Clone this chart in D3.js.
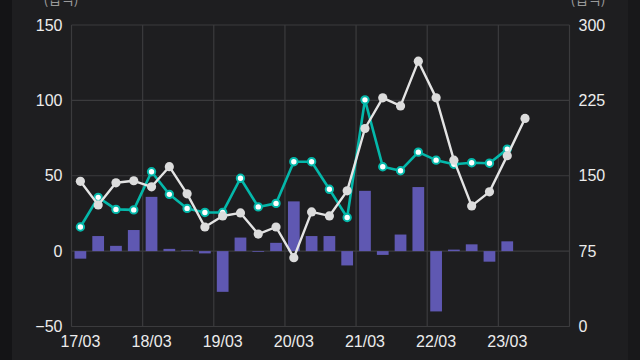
<!DOCTYPE html>
<html><head><meta charset="utf-8">
<script src="https://cdn.jsdelivr.net/npm/d3@7/dist/d3.min.js"></script>
<style>
html,body{margin:0;padding:0;background:#141416;}
svg{display:block;}
</style></head>
<body><svg id="c" width="640" height="360"></svg>
<script>
// quarterly categories (YY/MM)
const categories = ["17/03","17/06","17/09","17/12","18/03","18/06","18/09","18/12",
  "19/03","19/06","19/09","19/12","20/03","20/06","20/09","20/12",
  "21/03","21/06","21/09","21/12","22/03","22/06","22/09","22/12",
  "23/03","23/06","23/09","23/12"];
const tickLabels = ["17/03","18/03","19/03","20/03","21/03","22/03","23/03"];
const leftTicks = [-50, 0, 50, 100, 150];
const rightTicks = [0, 75, 150, 225, 300];
const unitLabel = "(십억)";
// bars (left axis)
const barValues = [-5, 10, 3.5, 14, 36, 1.5, 0.5, -1.5, -27, 9, -0.5, 5.5, 33, 10, 10, -9.5,
  40, -2.5, 11, 42.5, -40, 1, 4.5, -7, 6.5];
// teal line (right axis)
const tealValues = [99, 128.5, 116.5, 116, 154, 131.5, 117.5, 113.5, 113.5, 147.5, 119, 122.5,
  164, 164, 136.5, 108.5, 225.5, 159, 155, 173.5, 165.5, 161.5, 163, 162.5, 176.5];
// white line (right axis)
const whiteValues = [144.5, 121, 143, 145, 139, 159, 132, 99, 110, 113, 92, 99, 68.5, 114, 110,
  135, 197, 227.5, 219.5, 264, 227.5, 165.5, 120, 134, 170, 207];

const W = 640, H = 360;
const plot = {l: 71.5, r: 569.5, t: 25, b: 326.5};
const svg = d3.select("#c");
svg.append("rect").attr("x", 12).attr("y", 0).attr("width", 616).attr("height", H).attr("fill", "#1e1e20");
svg.append("rect").attr("x", 628).attr("y", 0).attr("width", 12).attr("height", H).attr("fill", "#18181a");

const x = d3.scaleBand().domain(categories).range([plot.l, plot.r]).paddingInner(0.34).paddingOuter(0.17);
const yL = d3.scaleLinear().domain([-50, 150]).range([plot.b, plot.t]);
const yR = d3.scaleLinear().domain([0, 300]).range([plot.b, plot.t]);
const step = x.step();
const cx = c => x(c) + x.bandwidth() / 2;

const grid = svg.append("g").attr("stroke", "#3b3b3d").attr("stroke-width", 1.2);
leftTicks.forEach(t => grid.append("line").attr("x1", plot.l).attr("x2", plot.r)
  .attr("y1", yL(t)).attr("y2", yL(t)));
tickLabels.forEach(t => {
  const gx = x(t) - step * x.paddingOuter();
  grid.append("line").attr("x1", gx).attr("x2", gx).attr("y1", plot.t).attr("y2", plot.b);
});
grid.append("line").attr("x1", plot.r).attr("x2", plot.r).attr("y1", plot.t).attr("y2", plot.b);
grid.append("line").attr("x1", plot.l).attr("x2", plot.r).attr("y1", plot.b).attr("y2", plot.b);

// bars
svg.append("g").selectAll("rect").data(barValues).join("rect")
  .attr("x", (d, i) => x(categories[i]))
  .attr("width", x.bandwidth())
  .attr("y", d => yL(Math.max(0, d)))
  .attr("height", d => Math.abs(yL(d) - yL(0)))
  .attr("fill", "#5f58b2");

// teal line
const lineT = d3.line().x((d, i) => cx(categories[i])).y(d => yR(d));
svg.append("path").datum(tealValues).attr("d", lineT).attr("fill", "none")
  .attr("stroke", "#04b8aa").attr("stroke-width", 2.6).attr("stroke-linejoin", "round");
svg.append("g").selectAll("circle").data(tealValues).join("circle")
  .attr("cx", (d, i) => cx(categories[i])).attr("cy", d => yR(d)).attr("r", 3.7)
  .attr("fill", "#ffffff").attr("stroke", "#04b8aa").attr("stroke-width", 2);

// white line
svg.append("path").datum(whiteValues).attr("d", lineT).attr("fill", "none")
  .attr("stroke", "#e4e4e4").attr("stroke-width", 2.4).attr("stroke-linejoin", "round");
svg.append("g").selectAll("circle").data(whiteValues).join("circle")
  .attr("cx", (d, i) => cx(categories[i])).attr("cy", d => yR(d)).attr("r", 4.6)
  .attr("fill", "#dcdcdc");

// axes
const font = "'Liberation Sans', Arial, sans-serif";
const axL = svg.append("g").attr("transform", `translate(${plot.l},0)`)
  .call(d3.axisLeft(yL).tickValues(leftTicks).tickSize(0).tickPadding(9));
const axR = svg.append("g").attr("transform", `translate(${plot.r},0)`)
  .call(d3.axisRight(yR).tickValues(rightTicks).tickSize(0).tickPadding(9));
const axB = svg.append("g").attr("transform", `translate(0,${plot.b})`)
  .call(d3.axisBottom(x).tickValues(tickLabels).tickSize(0).tickPadding(9));
[axL, axR, axB].forEach(a => {
  a.select(".domain").remove();
  a.selectAll("text").attr("fill", "#ececec").style("font-family", font).style("font-size", "16px");
});

svg.append("text").attr("x", 61).attr("y", 4).attr("text-anchor", "middle")
  .attr("fill", "#9a9a9a").style("font-family", "'Noto Sans CJK KR', sans-serif").style("font-size", "14px")
  .text(unitLabel);
svg.append("text").attr("x", 588).attr("y", 4).attr("text-anchor", "middle")
  .attr("fill", "#9a9a9a").style("font-family", "'Noto Sans CJK KR', sans-serif").style("font-size", "14px")
  .text(unitLabel);
</script></body></html>
